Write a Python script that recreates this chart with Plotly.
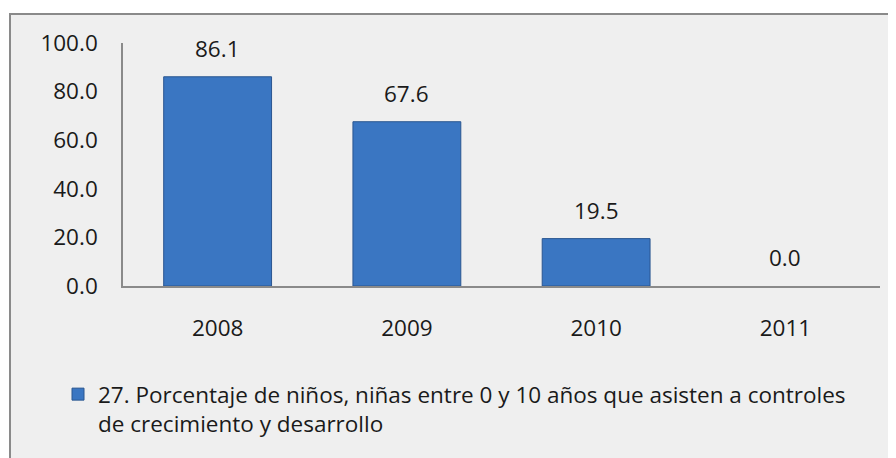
import plotly.graph_objects as go

categories = ["2008", "2009", "2010", "2011"]
values = [86.1, 67.6, 19.5, 0.0]
value_labels = ["86.1", "67.6", "19.5", "0.0"]
y_ticks = [0, 20, 40, 60, 80, 100]
y_tick_labels = ["0.0", "20.0", "40.0", "60.0", "80.0", "100.0"]
series_name = ("27. Porcentaje de niños, niñas entre 0 y 10 años que asisten a controles"
               "<br>de crecimiento y desarrollo")

FONT = "Open Sans"
FS = 22.5
TXT = "#1a1a1a"

OFF = 8  # page body margin
W, H = 896 - OFF, 458 - OFF
# plot area in screen pixels
PX0, PX1, PY0, PY1 = 123, 880, 43, 286
L, R, T, B = PX0 - OFF, W - (PX1 - OFF), PY0 - OFF, H - (PY1 - OFF)
pw, ph = PX1 - PX0, PY1 - PY0

def px_x(s):
    return (s - PX0) / pw

def px_y(s):
    return (PY1 - s) / ph

fig = go.Figure()
fig.add_trace(go.Bar(
    x=categories, y=values, name=series_name,
    marker=dict(color="#3a76c2",
                line=dict(color="#2a5690", width=[1 if v > 0 else 0 for v in values])),
    width=0.57, showlegend=True,
))

for i, (v, t) in enumerate(zip(values, value_labels)):
    fig.add_annotation(x=i, y=v, xref="x", yref="y", text=t, showarrow=False,
                       yanchor="bottom", yshift=11,
                       font=dict(family=FONT, size=FS, color=TXT))

fig.add_shape(type="rect", xref="paper", yref="paper", layer="below",
              x0=px_x(10), x1=px_x(905), y0=px_y(470), y1=px_y(14),
              fillcolor="#efefef", line=dict(color="#8a8a8a", width=2))

fig.update_layout(
    width=W, height=H,
    margin=dict(l=L, r=R, t=T, b=B),
    paper_bgcolor="white", plot_bgcolor="rgba(0,0,0,0)",
    font=dict(family=FONT, size=FS, color=TXT),
    xaxis=dict(type="category", range=[-0.5, 3.5], showline=True, linecolor="#8a8a8a",
               linewidth=2, showgrid=False, ticks="", ticklabelstandoff=21,
               zeroline=False, tickfont=dict(family=FONT, size=FS, color=TXT)),
    yaxis=dict(range=[0, 100], tickvals=y_ticks, ticktext=y_tick_labels,
               showline=True, linecolor="#8a8a8a", linewidth=1.5, showgrid=False,
               zeroline=False, ticks="", ticklabelstandoff=19,
               tickfont=dict(family=FONT, size=FS, color=TXT)),
    legend=dict(orientation="h", x=px_x(58), y=px_y(373), xanchor="left", yanchor="top",
                bgcolor="rgba(0,0,0,0)", valign="top",
                font=dict(family=FONT, size=FS, color=TXT)),
)

fig.write_html("out.html")
